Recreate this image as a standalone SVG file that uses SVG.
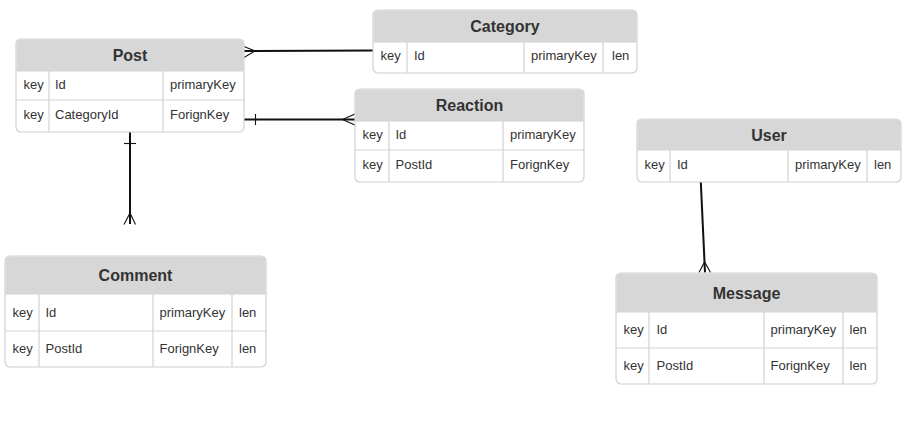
<svg xmlns="http://www.w3.org/2000/svg" width="906" height="425" viewBox="0 0 906 425">
<style>
.frame{fill:#ffffff;stroke:#d0d0d0;stroke-width:1.2}
.head{fill:#d7d7d7}
.div{stroke:#d3d3d3;stroke-width:1.2;fill:none}
.title{font-family:"Liberation Sans",Arial,sans-serif;font-size:16px;font-weight:bold;fill:#333333;text-anchor:middle}
.cell{font-family:"Liberation Sans",Arial,sans-serif;font-size:13px;fill:#333333}
.rel{stroke:#111111;stroke-width:2;fill:none}
.foot{stroke:#111111;stroke-width:1.1;fill:none}
</style>
<rect width="906" height="425" fill="#ffffff"/>

<g id="connectors">
  <!-- Post - Category -->
  <path class="rel" d="M244,51 L373,50.5"/>
  <path class="foot" d="M244,46.5 L255,51 L244,57.5"/>
  <!-- Post - Reaction -->
  <path class="rel" d="M244,119.5 L355,119.5"/>
  <path class="foot" d="M255.5,114 L255.5,125"/>
  <path class="foot" d="M355,114 L342.5,119.5 L355,125"/>
  <!-- Post - Comment -->
  <path class="rel" d="M130,132 L130,224"/>
  <path class="foot" d="M124,143.5 L136,143.5"/>
  <path class="foot" d="M124,224.5 L130,213 L135.5,224.5"/>
  <!-- User - Message -->
  <path class="rel" d="M700.8,182 L705,272.5"/>
  <path class="foot" d="M699,272.5 L704.6,262 L710.5,272.5"/>
</g>

<g id="node-post">
  <rect class="frame" x="16" y="39" width="228" height="93" rx="5"/>
  <path class="head" d="M16.6,71 V44 a4.4,4.4 0 0 1 4.4,-4.4 H239 a4.4,4.4 0 0 1 4.4,4.4 V71 Z"/>
  <path class="div" d="M16,71 H244 M16,100 H244 M49,71 V132 M163,71 V132"/>
  <text class="title" x="130" y="61">Post</text>
  <text class="cell" x="23.5" y="88.5">key</text>
  <text class="cell" x="55" y="88.5">Id</text>
  <text class="cell" x="170" y="88.5">primaryKey</text>
  <text class="cell" x="23.5" y="118.5">key</text>
  <text class="cell" x="55" y="118.5">CategoryId</text>
  <text class="cell" x="170" y="118.5">ForignKey</text>
</g>

<g id="node-category">
  <rect class="frame" x="373" y="10" width="264" height="63" rx="5"/>
  <path class="head" d="M373.6,42 V15 a4.4,4.4 0 0 1 4.4,-4.4 H632 a4.4,4.4 0 0 1 4.4,4.4 V42 Z"/>
  <path class="div" d="M373,42 H637 M407,42 V73 M524,42 V73 M603,42 V73"/>
  <text class="title" x="505" y="32">Category</text>
  <text class="cell" x="380.5" y="60">key</text>
  <text class="cell" x="414" y="60">Id</text>
  <text class="cell" x="531" y="60">primaryKey</text>
  <text class="cell" x="612" y="60">len</text>
</g>

<g id="node-reaction">
  <rect class="frame" x="355" y="89" width="229" height="93" rx="5"/>
  <path class="head" d="M355.6,121 V94 a4.4,4.4 0 0 1 4.4,-4.4 H579 a4.4,4.4 0 0 1 4.4,4.4 V121 Z"/>
  <path class="div" d="M355,121 H584 M355,150 H584 M389,121 V182 M503,121 V182"/>
  <text class="title" x="469.5" y="111">Reaction</text>
  <text class="cell" x="362.5" y="138.5">key</text>
  <text class="cell" x="395.5" y="138.5">Id</text>
  <text class="cell" x="510" y="138.5">primaryKey</text>
  <text class="cell" x="362.5" y="168.5">key</text>
  <text class="cell" x="395.5" y="168.5">PostId</text>
  <text class="cell" x="510" y="168.5">ForignKey</text>
</g>

<g id="node-user">
  <rect class="frame" x="637" y="119" width="264" height="63" rx="5"/>
  <path class="head" d="M637.6,150 V124 a4.4,4.4 0 0 1 4.4,-4.4 H896 a4.4,4.4 0 0 1 4.4,4.4 V150 Z"/>
  <path class="div" d="M637,150 H901 M670,150 V182 M788,150 V182 M867,150 V182"/>
  <text class="title" x="769" y="141">User</text>
  <text class="cell" x="644.5" y="168.5">key</text>
  <text class="cell" x="677" y="168.5">Id</text>
  <text class="cell" x="795" y="168.5">primaryKey</text>
  <text class="cell" x="874" y="168.5">len</text>
</g>

<g id="node-message">
  <rect class="frame" x="616" y="273" width="261" height="111" rx="5"/>
  <path class="head" d="M616.6,312 V278 a4.4,4.4 0 0 1 4.4,-4.4 H872 a4.4,4.4 0 0 1 4.4,4.4 V312 Z"/>
  <path class="div" d="M616,312 H877 M616,348 H877 M649,312 V384 M764,312 V384 M843,312 V384"/>
  <text class="title" x="746.5" y="298.5">Message</text>
  <text class="cell" x="623.5" y="333.5">key</text>
  <text class="cell" x="656.5" y="333.5">Id</text>
  <text class="cell" x="770.5" y="333.5">primaryKey</text>
  <text class="cell" x="849.5" y="333.5">len</text>
  <text class="cell" x="623.5" y="369.5">key</text>
  <text class="cell" x="656.5" y="369.5">PostId</text>
  <text class="cell" x="770.5" y="369.5">ForignKey</text>
  <text class="cell" x="849.5" y="369.5">len</text>
</g>

<g id="node-comment">
  <rect class="frame" x="5" y="256" width="261" height="111" rx="5"/>
  <path class="head" d="M5.6,294 V261 a4.4,4.4 0 0 1 4.4,-4.4 H261 a4.4,4.4 0 0 1 4.4,4.4 V294 Z"/>
  <path class="div" d="M5,294 H266 M5,331 H266 M39,294 V367 M153,294 V367 M232,294 V367"/>
  <text class="title" x="135.5" y="281">Comment</text>
  <text class="cell" x="12.5" y="317">key</text>
  <text class="cell" x="45.5" y="317">Id</text>
  <text class="cell" x="159.5" y="317">primaryKey</text>
  <text class="cell" x="239" y="317">len</text>
  <text class="cell" x="12.5" y="353">key</text>
  <text class="cell" x="45.5" y="353">PostId</text>
  <text class="cell" x="159.5" y="353">ForignKey</text>
  <text class="cell" x="239" y="353">len</text>
</g>
</svg>
